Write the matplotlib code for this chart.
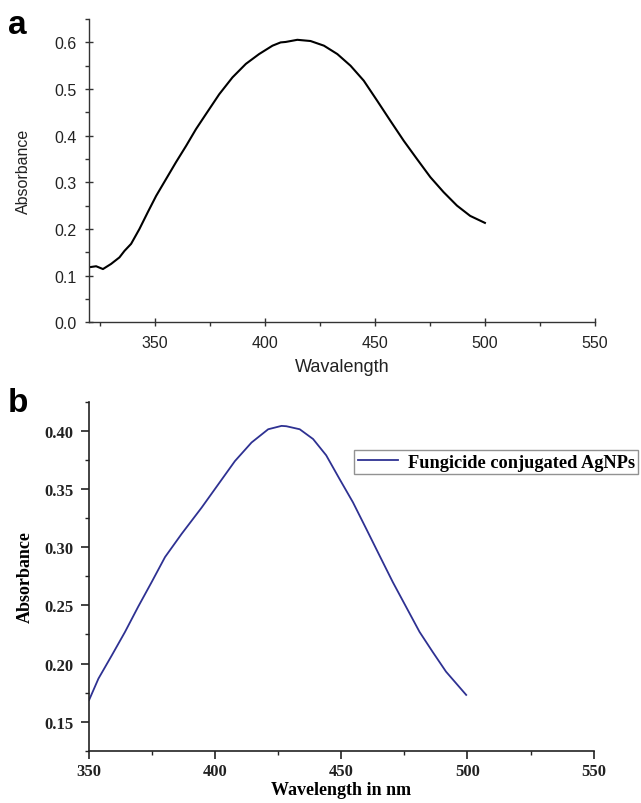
import matplotlib
matplotlib.use('Agg')
import matplotlib.pyplot as plt
from matplotlib.ticker import MultipleLocator

# panel a: UV-vis spectrum
wl_a = [320.2, 323.2, 326.3, 330.0, 333.8, 336.1, 339.1, 342.9, 346.7, 350.5, 355.0,
        359.5, 364.1, 368.6, 373.1, 379.2, 385.2, 391.3, 397.3, 403.4, 407.1, 409.4,
        414.7, 420.7, 426.8, 432.9, 438.9, 444.9, 451.0, 457.0, 463.1, 469.1, 475.2,
        481.2, 487.3, 493.3, 500.0]
abs_a = [0.118, 0.120, 0.114, 0.125, 0.139, 0.153, 0.168, 0.200, 0.236, 0.271, 0.307,
         0.343, 0.378, 0.414, 0.446, 0.489, 0.525, 0.554, 0.575, 0.593, 0.600, 0.601,
         0.6056, 0.603, 0.593, 0.575, 0.550, 0.518, 0.475, 0.432, 0.389, 0.350, 0.311,
         0.279, 0.250, 0.228, 0.213]

# panel b: fungicide conjugated AgNPs
wl_b = [350.0, 353.7, 359.0, 364.2, 369.5, 374.8, 380.1, 386.7, 394.6, 401.2, 407.8,
        414.4, 421.0, 426.3, 428.2, 433.5, 438.8, 444.0, 449.3, 454.6, 459.9, 465.1,
        470.4, 475.7, 481.0, 486.2, 491.5, 499.5]
abs_b = [0.1686, 0.187, 0.207, 0.227, 0.249, 0.270, 0.2915, 0.3115, 0.334, 0.354, 0.374,
         0.390, 0.4014, 0.4043, 0.404, 0.4014, 0.393, 0.379, 0.3586, 0.3386, 0.3157,
         0.293, 0.270, 0.2486, 0.2272, 0.210, 0.193, 0.173]

fig = plt.figure(figsize=(6.41, 8.04), dpi=100)

# ---- panel a
ax1 = fig.add_axes([0.139, 0.598, 0.789, 0.377])
ax1.plot(wl_a, abs_a, color='black', lw=1.5, solid_joinstyle='round')
ax1.set_xlim(320, 550)
ax1.set_ylim(0, 0.65)
ax1.set_xticks([350, 400, 450, 500, 550])
ax1.xaxis.set_minor_locator(MultipleLocator(25))
ax1.set_yticks([0.0, 0.1, 0.2, 0.3, 0.4, 0.5, 0.6])
ax1.set_yticklabels(['0.0', '0.1', '0.2', '0.3', '0.4', '0.5', '0.6'])
ax1.yaxis.set_minor_locator(MultipleLocator(0.05))
for s in ['top', 'right']:
    ax1.spines[s].set_visible(False)
for s in ['left', 'bottom']:
    ax1.spines[s].set_color('#333333')
    ax1.spines[s].set_linewidth(1.0)
ax1.tick_params(which='major', direction='inout', length=6, width=1, colors='#333333',
                labelsize=11.5, pad=6)
ax1.tick_params(which='minor', direction='out', length=3, width=1, colors='#333333')
for lab in ax1.get_xticklabels() + ax1.get_yticklabels():
    lab.set_family('Liberation Sans')
    lab.set_color('#222222')
ax1.set_xlabel('Wavalength', family='Liberation Sans', fontsize=13, color='#222222',
               labelpad=6)
ax1.set_ylabel('Absorbance', family='Liberation Sans', fontsize=11.5, color='#222222',
               labelpad=17)
fig.text(0.012, 0.958, 'a', family='Liberation Sans', fontweight='bold', fontsize=24)

# ---- panel b
ax2 = fig.add_axes([0.139, 0.065, 0.787, 0.434])
ax2.plot(wl_b, abs_b, color='#2e3192', lw=1.3, label='Fungicide conjugated AgNPs')
ax2.set_xlim(350, 550)
ax2.set_ylim(0.125, 0.425)
ax2.set_xticks([350, 400, 450, 500, 550])
ax2.xaxis.set_minor_locator(MultipleLocator(25))
ax2.set_yticks([0.15, 0.20, 0.25, 0.30, 0.35, 0.40])
ax2.set_yticklabels(['0.15', '0.20', '0.25', '0.30', '0.35', '0.40'])
ax2.yaxis.set_minor_locator(MultipleLocator(0.025))
for s in ['top', 'right']:
    ax2.spines[s].set_visible(False)
for s in ['left', 'bottom']:
    ax2.spines[s].set_color('#222222')
    ax2.spines[s].set_linewidth(1.2)
ax2.tick_params(which='major', direction='out', length=6, width=1.2, colors='#222222',
                labelsize=12, pad=5)
ax2.tick_params(axis='x', which='major', pad=3)
ax2.tick_params(which='minor', direction='out', length=3, width=1, colors='#222222')
for lab in ax2.get_xticklabels() + ax2.get_yticklabels():
    lab.set_family('Liberation Serif')
    lab.set_fontweight('bold')
ax2.set_xlabel('Wavelength in nm', family='Liberation Serif', fontweight='bold',
               fontsize=13, labelpad=1)
ax2.set_ylabel('Absorbance', family='Liberation Serif', fontweight='bold',
               fontsize=13, labelpad=8)
leg = ax2.legend(loc='upper left', bbox_to_anchor=(0.526, 0.862), frameon=True,
                 fancybox=False, edgecolor='#777777', handlelength=2.2,
                 borderpad=0.2, handletextpad=0.5, borderaxespad=0,
                 prop={'family': 'Liberation Serif', 'weight': 'bold', 'size': 13.2})
leg.get_frame().set_linewidth(1.0)
fig.text(0.012, 0.487, 'b', family='Liberation Sans', fontweight='bold', fontsize=24)

fig.savefig('out.png', dpi=100)
